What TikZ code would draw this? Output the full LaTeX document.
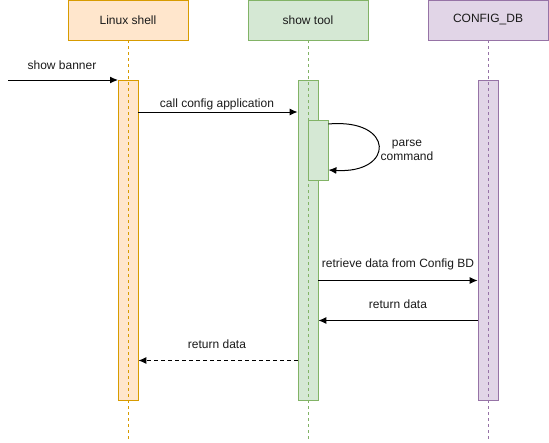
\documentclass[tikz,border=0pt]{standalone}
\usepackage{fontspec}
\setmainfont{Liberation Sans}
\usetikzlibrary{arrows.meta}
\definecolor{orfill}{HTML}{FFE6CC}\definecolor{ordraw}{HTML}{D79B00}
\definecolor{grfill}{HTML}{D5E8D4}\definecolor{grdraw}{HTML}{82B366}
\definecolor{pufill}{HTML}{E1D5E7}\definecolor{pudraw}{HTML}{9673A6}
\definecolor{txt}{HTML}{1A1A1A}
\tikzset{
  hdr/.style={draw=#1draw, fill=#1fill, line width=0.8pt, minimum width=120pt, minimum height=40pt, inner sep=0pt, font=\fontsize{12}{14}\selectfont, text=txt},
  bar/.style={draw=#1draw, fill=#1fill, line width=0.8pt, minimum width=20pt, minimum height=320pt, inner sep=0pt},
  life/.style={draw=#1draw, dash pattern=on 3pt off 3pt, line width=0.8pt},
  msg/.style={line width=1pt, -{Latex[length=8pt,width=7pt]}},
  lbl/.style={font=\fontsize{12}{14}\selectfont, text=txt, inner sep=0pt, align=center}
}
\begin{document}
\begin{tikzpicture}[x=1pt,y=-1pt]
\useasboundingbox (0,0) rectangle (549,442);
% headers
\node[hdr=or] (h1) at (128,20) {Linux shell};
\node[hdr=gr] (h2) at (308,20) {show tool};
\node[hdr=pu] (h3) at (488,20) {CONFIG\_DB};
% activation bars
\node[bar=or] (b1) at (128,240) {};
\node[bar=gr] (b2) at (308,240) {};
\node[bar=pu] (b3) at (488,240) {};
\node[draw=grdraw, fill=grfill, line width=0.8pt, minimum width=20pt, minimum height=60pt, inner sep=0pt] (b2s) at (318,150) {};
% lifelines
\coordinate (e1) at (128,442);
\coordinate (e2) at (308,442);
\coordinate (e3) at (488,442);
\draw[life=or] (h1.south) -- (e1);
\draw[life=gr] (h2.south) -- (e2);
\draw[life=pu] (h3.south) -- (e3);
% messages
\coordinate (s0) at (8,80);
\coordinate (t0) at (118,80);
\draw[msg] (s0) -- (t0);
\node[lbl] (l0) at (62,65) {show banner};
\draw[msg] (b1.east |- 0,112) -- (b2.west |- 0,112);
\node[lbl] (l1) at (217,104) {call config application};
\draw[msg] (b2s.east |- 0,124) .. controls (395,118) and (395,174) .. (b2s.east |- 0,170);
\node[lbl] (l2) at (407,150) {parse\\command};
\draw[msg] (b2.east |- 0,280.5) -- (b3.west |- 0,280.5);
\node[lbl] (l3) at (398,264) {retrieve data from Config BD};
\draw[msg] (b3.west |- 0,320.5) -- (b2.east |- 0,320.5);
\node[lbl] (l4) at (398,304) {return data};
\draw[msg, dash pattern=on 4pt off 3pt] (b2.west |- 0,360.5) -- (b1.east |- 0,360.5);
\node[lbl] (l5) at (217,344) {return data};
\end{tikzpicture}
\end{document}
